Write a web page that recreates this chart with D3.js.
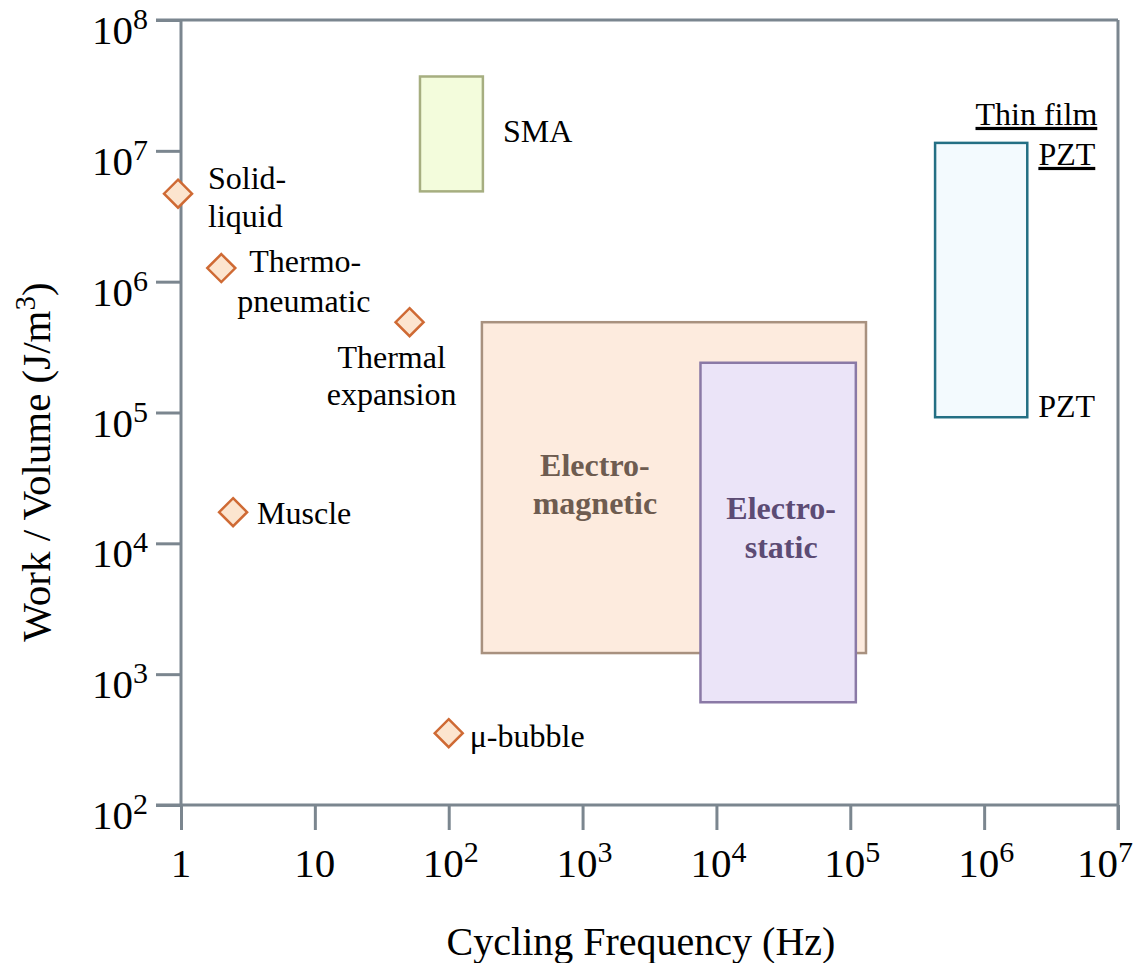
<!DOCTYPE html>
<html>
<head>
<meta charset="utf-8">
<script src="https://cdn.jsdelivr.net/npm/d3@7"></script>
<style>
  body { margin: 0; background: #fff; }
  text { font-family: "Liberation Serif", "Times New Roman", Times, Tinos, "Nimbus Roman", FreeSerif, serif; fill: #000; }
</style>
</head>
<body>
<script>
svgWidth = 1133
svgHeight = 963
axisColor = "#7b868f"

// tick values
xTicks = [1, 10, 1e2, 1e3, 1e4, 1e5, 1e6, 1e7]
yTicks = [1e2, 1e3, 1e4, 1e5, 1e6, 1e7, 1e8]

// actuator regions (frequency range, work/volume range)
regionNames = ["SMA", "Electromagnetic", "Electrostatic", "Thin film PZT"]
regionFreqMin = [61, 177, 7600, 4.3e5]
regionFreqMax = [180, 1.31e5, 1.1e5, 2.1e6]
regionWorkMin = [4.9e6, 1.45e3, 610, 9.2e4]
regionWorkMax = [3.7e7, 4.9e5, 2.4e5, 1.15e7]
regionFill = ["#f3fcdc", "#fdebde", "#ebe4f8", "#f3fafe"]
regionStroke = ["#a6ae80", "#a8917f", "#8a79a6", "#236f84"]

// single actuators
pointNames = ["Solid-liquid", "Thermo-pneumatic", "Thermal expansion", "Muscle", "μ-bubble"]
pointFreq = [0.95, 2.0, 51, 2.45, 100]
pointWork = [4.7e6, 1.27e6, 4.9e5, 1.73e4, 354]

xScale = d3.scaleLog().domain([1, 1e7]).range([181, 1118])
yScale = d3.scaleLog().domain([1e2, 1e8]).range([805, 20])

var svg = d3.select("body").append("svg")
    .attr("width", svgWidth)
    .attr("height", svgHeight)

// regions
var regions = regionNames.map(function(n, i) {
  return {name: n, x0: regionFreqMin[i], x1: regionFreqMax[i],
          y0: regionWorkMin[i], y1: regionWorkMax[i],
          fill: regionFill[i], stroke: regionStroke[i]}
})

svg.selectAll("rect.region")
  .data(regions)
  .enter().append("rect")
    .attr("class", "region")
    .attr("x", function(d) { return xScale(d.x0) })
    .attr("y", function(d) { return yScale(d.y1) })
    .attr("width", function(d) { return xScale(d.x1) - xScale(d.x0) })
    .attr("height", function(d) { return yScale(d.y0) - yScale(d.y1) })
    .style("fill", function(d) { return d.fill })
    .style("stroke", function(d) { return d.stroke })
    .style("stroke-width", 2.5)

// axes
var xAxis = d3.axisBottom(xScale).tickValues(xTicks).tickSize(25).tickSizeOuter(0).tickFormat("")
var yAxis = d3.axisLeft(yScale).tickValues(yTicks).tickSize(25).tickSizeOuter(0).tickFormat("")

var gx = svg.append("g").attr("transform", "translate(0," + yScale(1e2) + ")").call(xAxis)
var gy = svg.append("g").attr("transform", "translate(" + xScale(1) + ",0)").call(yAxis)
gx.select(".domain").remove()
gy.select(".domain").remove()
svg.selectAll(".tick line").style("stroke", axisColor).style("stroke-width", 3)

// frame lines
var frame = svg.append("g").style("stroke", axisColor).style("stroke-width", 3)
frame.append("line")
  .attr("x1", xScale(1) - 25).attr("x2", xScale(1e7))
  .attr("y1", yScale(1e2)).attr("y2", yScale(1e2))
frame.append("line")
  .attr("x1", xScale(1) - 25).attr("x2", xScale(1e7))
  .attr("y1", yScale(1e8)).attr("y2", yScale(1e8))
frame.append("line")
  .attr("x1", xScale(1)).attr("x2", xScale(1))
  .attr("y1", yScale(1e8)).attr("y2", yScale(1e2))
frame.append("line")
  .attr("x1", xScale(1e7)).attr("x2", xScale(1e7))
  .attr("y1", yScale(1e8)).attr("y2", yScale(1e2) + 25)

function powLabel(sel, v) {
  var e = Math.round(Math.log10(v))
  if (e === 0) { sel.append("tspan").text("1"); return }
  if (e === 1) { sel.append("tspan").text("10"); return }
  sel.append("tspan").text("10")
  sel.append("tspan").attr("dy", -15).style("font-size", "30px").text(e)
}

svg.append("g").selectAll("text")
  .data(xTicks)
  .enter().append("text")
    .attr("x", function(d) { return d === 1e7 ? 1133 : xScale(d) + (d >= 100 ? 2 : 0) })
    .attr("y", 877)
    .attr("text-anchor", function(d) { return d === 1e7 ? "end" : "middle" })
    .style("font-size", "41px")
    .each(function(d) { powLabel(d3.select(this), d) })

svg.append("g").selectAll("text")
  .data(yTicks)
  .enter().append("text")
    .attr("x", 148)
    .attr("y", function(d) { return yScale(d) + 24 })
    .attr("text-anchor", "end")
    .style("font-size", "41px")
    .each(function(d) { powLabel(d3.select(this), d) })

// axis titles
svg.append("text")
  .attr("x", 641).attr("y", 955)
  .attr("text-anchor", "middle")
  .style("font-size", "40px")
  .text("Cycling Frequency (Hz)")

var yt = svg.append("text")
  .attr("transform", "translate(50,462) rotate(-90)")
  .attr("text-anchor", "middle")
  .style("font-size", "41px")
yt.append("tspan").text("Work / Volume (J/m")
yt.append("tspan").attr("dy", -15).style("font-size", "29px").text("3")
yt.append("tspan").attr("dy", 15).text(")")

// region labels, offsets from the rect edges
function rx0(i) { return xScale(regionFreqMin[i]) }
function rx1(i) { return xScale(regionFreqMax[i]) }
function ry0(i) { return yScale(regionWorkMax[i]) }
function ry1(i) { return yScale(regionWorkMin[i]) }

var ann = svg.append("g").style("font-size", "32px")

ann.append("text").attr("x", rx1(0) + 20).attr("y", (ry0(0) + ry1(0)) / 2 + 8).text("SMA")

var em = ann.append("text").attr("text-anchor", "middle")
  .style("font-weight", "bold").style("fill", "#6e5c50")
em.append("tspan").attr("x", rx0(1) + 113).attr("y", ry0(1) + 154).text("Electro-")
em.append("tspan").attr("x", rx0(1) + 113).attr("y", ry0(1) + 192).text("magnetic")

var es = ann.append("text").attr("text-anchor", "middle")
  .style("font-weight", "bold").style("fill", "#5c4b74")
es.append("tspan").attr("x", (rx0(2) + rx1(2)) / 2 + 3).attr("y", ry0(2) + 156).text("Electro-")
es.append("tspan").attr("x", (rx0(2) + rx1(2)) / 2 + 3).attr("y", ry0(2) + 195).text("static")

ann.append("text").attr("x", rx1(3) + 70).attr("y", ry0(3) - 18)
  .attr("text-anchor", "end").style("text-decoration", "underline").text("Thin film")
ann.append("text").attr("x", rx1(3) + 68).attr("y", ry0(3) + 22)
  .attr("text-anchor", "end").style("text-decoration", "underline").text("PZT")
ann.append("text").attr("x", rx1(3) + 11).attr("y", ry1(3)).text("PZT")

// diamonds
var points = pointNames.map(function(n, i) {
  return {name: n, x: pointFreq[i], y: pointWork[i]}
})

svg.selectAll("path.pt")
  .data(points)
  .enter().append("path")
    .attr("class", "pt")
    .attr("transform", function(d) {
      return "translate(" + xScale(d.x) + "," + yScale(d.y) + ")"
    })
    .attr("d", "M0,-14L14,0L0,14L-14,0Z")
    .style("fill", "#fce5cf")
    .style("stroke", "#cf6a34")
    .style("stroke-width", 2.5)

// point labels, lines with offsets from the diamond centre
pointLabelLines = [
  [["Solid-", 30, -5], ["liquid", 30, 33]],
  [["Thermo-", 28, 4], ["pneumatic", 16, 44]],
  [["Thermal", -18, 46], ["expansion", -18, 83]],
  [["Muscle", 24, 12]],
  [["μ-bubble", 21, 14]]
]
pointLabelAnchor = ["start", "start", "middle", "start", "start"]

points.forEach(function(d, i) {
  var px = xScale(d.x), py = yScale(d.y)
  var t = ann.append("text").attr("text-anchor", pointLabelAnchor[i])
  pointLabelLines[i].forEach(function(l) {
    t.append("tspan").attr("x", px + l[1]).attr("y", py + l[2]).text(l[0])
  })
})
</script>
</body>
</html>
